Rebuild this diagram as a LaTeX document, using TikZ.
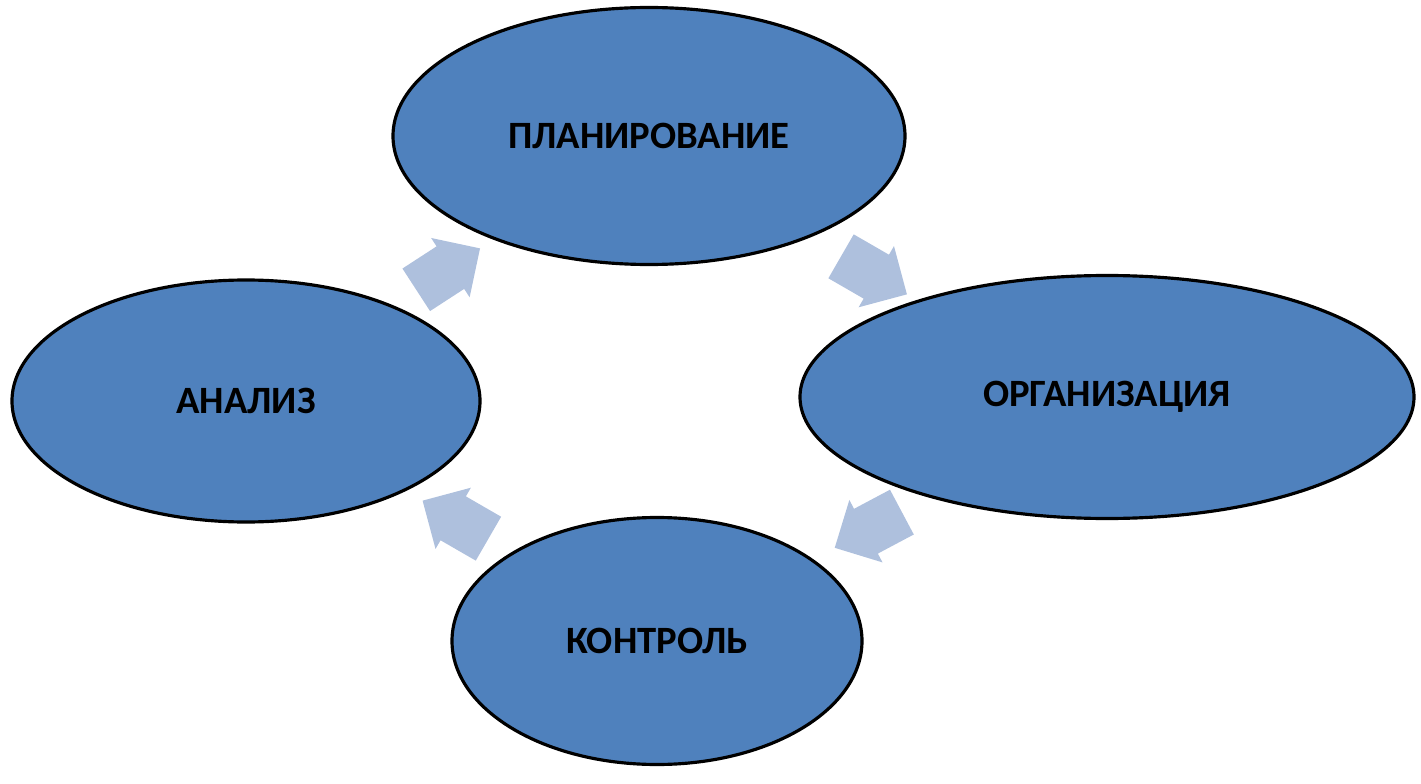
\documentclass[tikz,border=0pt]{standalone}
\usepackage{fontspec}
\setmainfont{Carlito}
\definecolor{stageblue}{RGB}{79, 129, 189}
\definecolor{flowblue}{RGB}{174, 192, 221}
\usetikzlibrary{shapes.geometric, shapes.arrows, calc}

\begin{document}
\begin{tikzpicture}
  \tikzset{
    stage/.style={ellipse, draw=black, line width=1.8pt, fill=stageblue, inner sep=0pt,
      font=\fontsize{22}{26}\selectfont\bfseries},
    flow/.style={single arrow, fill=flowblue, draw=none, inner sep=0.5cm,
      single arrow head extend=0.2cm, minimum height=1.45cm}
  }
  \useasboundingbox (0,0) rectangle (28.42,15.66);

  % Stages of the cycle
  \node[stage, minimum width=10.24cm, minimum height=5.14cm] (plan) at (12.98, 12.94) {ПЛАНИРОВАНИЕ};
  \node[stage, minimum width=12.28cm, minimum height=4.86cm] (org) at (22.14, 7.72) {ОРГАНИЗАЦИЯ};
  \node[stage, minimum width=9.36cm, minimum height=4.84cm] (anal) at (4.92, 7.64) {АНАЛИЗ};
  \node[stage, minimum width=8.2cm, minimum height=4.94cm] (ctrl) at (13.14, 2.84) {КОНТРОЛЬ};

  % Block arrows between stages
  \node[flow, rotate=33] (a1) at ($(anal)!0.5!(plan)+(-0.2,-0.15)$) {};
  \node[flow, rotate=-30] (a2) at ($(plan)!0.5!(org)+(-0.3,-0.05)$) {};
  \node[flow, rotate=208] (a3) at ($(org)!0.5!(ctrl)+(-0.05,-0.1)$) {};
  \node[flow, rotate=150] (a4) at ($(ctrl)!0.5!(anal)+(0.3,-0.1)$) {};
\end{tikzpicture}
\end{document}
